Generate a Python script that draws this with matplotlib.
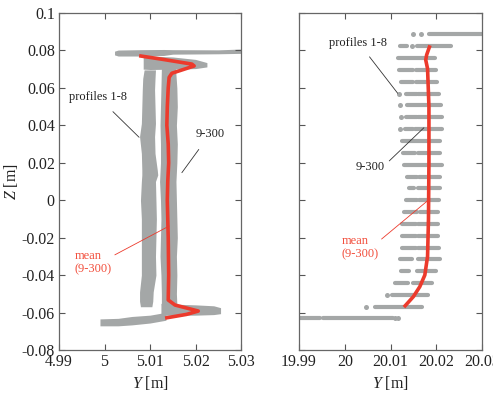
import numpy as np
import matplotlib
matplotlib.use("Agg")
import matplotlib.pyplot as plt

plt.rcParams['font.family'] = ['Liberation Serif', 'DejaVu Serif']
plt.rcParams['mathtext.fontset'] = 'custom'
plt.rcParams['mathtext.it'] = 'Liberation Serif:italic'
plt.rcParams['mathtext.rm'] = 'Liberation Serif'

GREY = '#a4a7a7'
RED = '#ec3a2c'
RED_TXT = '#f2503e'

# ---- left panel (Y around 5.01 m) ----
# column of profiles 1-8
z_p18 = [0.0696, 0.065, 0.059, 0.050, 0.041, 0.034, 0.025, 0.016, 0.0135, 0.010,
         0.000, -0.010, -0.020, -0.030, -0.040, -0.049, -0.054, -0.0569]
lo_p18 = [5.0087, 5.0084, 5.0083, 5.0082, 5.0081, 5.0077, 5.0081, 5.0082, 5.0082, 5.0081,
          5.0079, 5.0081, 5.0081, 5.0081, 5.0081, 5.0077, 5.0077, 5.0079]
hi_p18 = [5.0112, 5.0111, 5.0110, 5.0111, 5.0112, 5.0110, 5.0111, 5.0116, 5.0117, 5.0112,
          5.0113, 5.0114, 5.0113, 5.0112, 5.0113, 5.0107, 5.0106, 5.0104]
# column of profiles 9-300
z_p9 = [0.0705, 0.060, 0.050, 0.040, 0.030, 0.020, 0.010, 0.000, -0.010, -0.020,
        -0.030, -0.040, -0.050, -0.056]
lo_p9 = [5.0125, 5.0124, 5.0123, 5.0122, 5.0123, 5.0123, 5.0121, 5.0123, 5.0124, 5.0123,
         5.0122, 5.0124, 5.0125, 5.0125]
hi_p9 = [5.0156, 5.0159, 5.0160, 5.0158, 5.0160, 5.0159, 5.0157, 5.0158, 5.0159, 5.0160,
         5.0158, 5.0159, 5.0158, 5.0159]
# horizontal bands at the top and bottom edges
top_y = [5.0022, 5.003, 5.008, 5.013, 5.015, 5.025, 5.0295, 5.031]
top_lo = [0.0776, 0.0770, 0.0770, 0.0773, 0.0780, 0.0782, 0.0784, 0.0784]
top_hi = [0.0796, 0.0802, 0.0804, 0.0805, 0.0804, 0.0803, 0.0807, 0.0807]
top2_y = [5.0085, 5.010, 5.015, 5.020, 5.0225]
top2_lo = [0.0700, 0.0698, 0.0700, 0.0703, 0.0712]
top2_hi = [0.0768, 0.0770, 0.0765, 0.0752, 0.0735]
bot_y = [5.0124, 5.015, 5.020, 5.024, 5.0255]
bot_lo = [-0.0614, -0.0615, -0.0614, -0.0611, -0.0606]
bot_hi = [-0.0551, -0.0555, -0.0559, -0.0564, -0.0574]
bot2_y = [4.9990, 5.003, 5.006, 5.010, 5.0135]
bot2_lo = [-0.0671, -0.0671, -0.0666, -0.0656, -0.0641]
bot2_hi = [-0.0634, -0.0631, -0.0621, -0.0614, -0.0599]
# mean of profiles 9-300
mean_l_y = [5.0080, 5.0126, 5.0192, 5.0197, 5.0148, 5.0142, 5.0140, 5.0138, 5.0137, 5.0140,
            5.0141, 5.0139, 5.0138, 5.0140, 5.0141, 5.0140, 5.0155, 5.0206, 5.0180, 5.0137]
mean_l_z = [0.0770, 0.0753, 0.0727, 0.0717, 0.0678, 0.0656, 0.060, 0.050, 0.040, 0.030,
            0.020, 0.010, 0.000, -0.020, -0.040, -0.0533, -0.0560, -0.0592, -0.0610, -0.0628]

# ---- right panel (Y around 20.01 m): rows of points ----
row_z = [0.0886, 0.0822, 0.0758, 0.0695, 0.0632, 0.0569, 0.0506, 0.0442, 0.0379, 0.0316,
         0.0253, 0.0190, 0.0126, 0.0063, 0.0000, -0.0063, -0.0126, -0.0190, -0.0253, -0.0316,
         -0.0379, -0.0442, -0.0506, -0.0569, -0.0628]
row_segs = [
    [(20.0185, 20.032)],
    [(20.0121, 20.0137), (20.0159, 20.0232)],
    [(20.0117, 20.0197)],
    [(20.0119, 20.0150), (20.0156, 20.0199)],
    [(20.0122, 20.0150), (20.0155, 20.0201)],
    [(20.0134, 20.0159), (20.0161, 20.0207)],
    [(20.0137, 20.0210)],
    [(20.0134, 20.0157), (20.0161, 20.0212)],
    [(20.0132, 20.0150), (20.0154, 20.0212)],
    [(20.01245, 20.0208)],
    [(20.0128, 20.0154), (20.0161, 20.0208)],
    [(20.0130, 20.0212)],
    [(20.0137, 20.0159), (20.0163, 20.0208)],
    [(20.0140, 20.0151), (20.0161, 20.0208)],
    [(20.0134, 20.0159), (20.0163, 20.0207)],
    [(20.0130, 20.0157), (20.0164, 20.0204)],
    [(20.01245, 20.0156), (20.0161, 20.0204)],
    [(20.01245, 20.0156), (20.0161, 20.0203)],
    [(20.01245, 20.0156), (20.0161, 20.0207)],
    [(20.0121, 20.0146), (20.0161, 20.0208)],
    [(20.0122, 20.0141), (20.0159, 20.0199)],
    [(20.0110, 20.0139), (20.0149, 20.0190)],
    [(20.0103, 20.0183)],
    [(20.0066, 20.0168)],
    [(19.985, 19.9946), (19.9952, 20.0106)],
]
row_dots = [
    [20.0149, 20.0166], [20.0148], [], [], [], [20.0119], [20.0121], [20.0122], [20.0121], [],
    [], [], [], [], [], [], [], [], [], [],
    [], [], [20.0092], [20.0046], [20.0110, 20.0117],
]
mean_r_y = [20.0185, 20.0179, 20.0177, 20.0181, 20.0184, 20.0184, 20.0183, 20.0181,
            20.0175, 20.0164, 20.0150, 20.0132]
mean_r_z = [0.0818, 0.0776, 0.0749, 0.0702, 0.050, 0.020, -0.010, -0.030,
            -0.040, -0.0462, -0.0515, -0.0564]

yticks = [-0.08, -0.06, -0.04, -0.02, 0, 0.02, 0.04, 0.06, 0.08, 0.1]
yticklabels = ['-0.08', '-0.06', '-0.04', '-0.02', '0', '0.02', '0.04', '0.06', '0.08', '0.1']
xticks_l = [4.99, 5.0, 5.01, 5.02, 5.03]
xticklabels_l = ['4.99', '5', '5.01', '5.02', '5.03']
xticks_r = [19.99, 20.0, 20.01, 20.02, 20.03]
xticklabels_r = ['19.99', '20', '20.01', '20.02', '20.03']

fig = plt.figure(figsize=(4.93, 4.04), dpi=100)
axl = fig.add_axes([0.1197, 0.1337, 0.3692, 0.8342])
axr = fig.add_axes([0.6065, 0.1337, 0.3712, 0.8342])


def style(ax, xt, xtl):
    ax.set_ylim(-0.08, 0.1)
    ax.set_xlim(xt[0], xt[-1])
    ax.set_xticks(xt)
    ax.set_xticklabels(xtl)
    ax.set_yticks(yticks)
    ax.tick_params(direction='in', length=4, width=0.8, top=True, right=True,
                   labelsize=11.5, colors='#555555', labelcolor='#222222', pad=3)
    for s in ax.spines.values():
        s.set_color('#666666')
        s.set_linewidth(0.9)
    ax.set_xlabel('$Y$ [m]', fontsize=11.5, color='#222222', labelpad=3)


# left panel
style(axl, xticks_l, xticklabels_l)
axl.set_yticklabels(yticklabels)
axl.set_ylabel('$Z$ [m]', fontsize=11.5, color='#222222', labelpad=1)
axl.fill_betweenx(z_p18, lo_p18, hi_p18, color=GREY, lw=0)
axl.fill_betweenx(z_p9, lo_p9, hi_p9, color=GREY, lw=0)
axl.fill_between(top_y, top_lo, top_hi, color=GREY, lw=0)
axl.fill_between(top2_y, top2_lo, top2_hi, color=GREY, lw=0)
axl.fill_between(bot_y, bot_lo, bot_hi, color=GREY, lw=0)
axl.fill_between(bot2_y, bot2_lo, bot2_hi, color=GREY, lw=0)
axl.plot(mean_l_y, mean_l_z, color=RED, lw=2.6, solid_joinstyle='round')

axl.annotate('profiles 1-8', xy=(5.0076, 0.0336), xytext=(4.99857, 0.0551),
             fontsize=9, color='#222222', ha='center', va='center',
             arrowprops=dict(arrowstyle='-', color='#333333', lw=0.6, shrinkA=6, shrinkB=0))
axl.annotate('9-300', xy=(5.0170, 0.0147), xytext=(5.0232, 0.0354),
             fontsize=9, color='#222222', ha='center', va='center',
             arrowprops=dict(arrowstyle='-', color='#333333', lw=0.6, shrinkA=6, shrinkB=0))
axl.annotate('mean\n(9-300)', xy=(5.0142, -0.0138), xytext=(4.9935, -0.0333),
             fontsize=9, color=RED_TXT, ha='left', va='center', linespacing=1.1,
             arrowprops=dict(arrowstyle='-', color=RED, lw=0.6, shrinkA=0, shrinkB=0,
                             relpos=(1.0, 0.75)))

# right panel
style(axr, xticks_r, xticklabels_r)
axr.set_yticklabels([])
for z, segs, dots in zip(row_z, row_segs, row_dots):
    for a, b in segs:
        axr.plot([a, b], [z, z], color=GREY, lw=3.0, solid_capstyle='round')
    if dots:
        axr.plot(dots, [z] * len(dots), 'o', color=GREY, ms=3.6, mew=0)
axr.plot(mean_r_y, mean_r_z, color=RED, lw=2.6, solid_joinstyle='round')

axr.annotate('profiles 1-8', xy=(20.01157, 0.0571), xytext=(20.0030, 0.0842),
             fontsize=9, color='#222222', ha='center', va='center',
             arrowprops=dict(arrowstyle='-', color='#333333', lw=0.6, shrinkA=5, shrinkB=0))
axr.annotate('9-300', xy=(20.0173, 0.0387), xytext=(20.0055, 0.0179),
             fontsize=9, color='#222222', ha='center', va='center',
             arrowprops=dict(arrowstyle='-', color='#333333', lw=0.6, shrinkA=2, shrinkB=0,
                             relpos=(1.0, 0.6)))
axr.annotate('mean\n(9-300)', xy=(20.0183, 0.0001), xytext=(19.99933, -0.0253),
             fontsize=9, color=RED_TXT, ha='left', va='center', linespacing=1.1,
             arrowprops=dict(arrowstyle='-', color=RED, lw=0.6, shrinkA=0, shrinkB=0,
                             relpos=(1.0, 0.75)))

fig.savefig('out.png', dpi=100)
